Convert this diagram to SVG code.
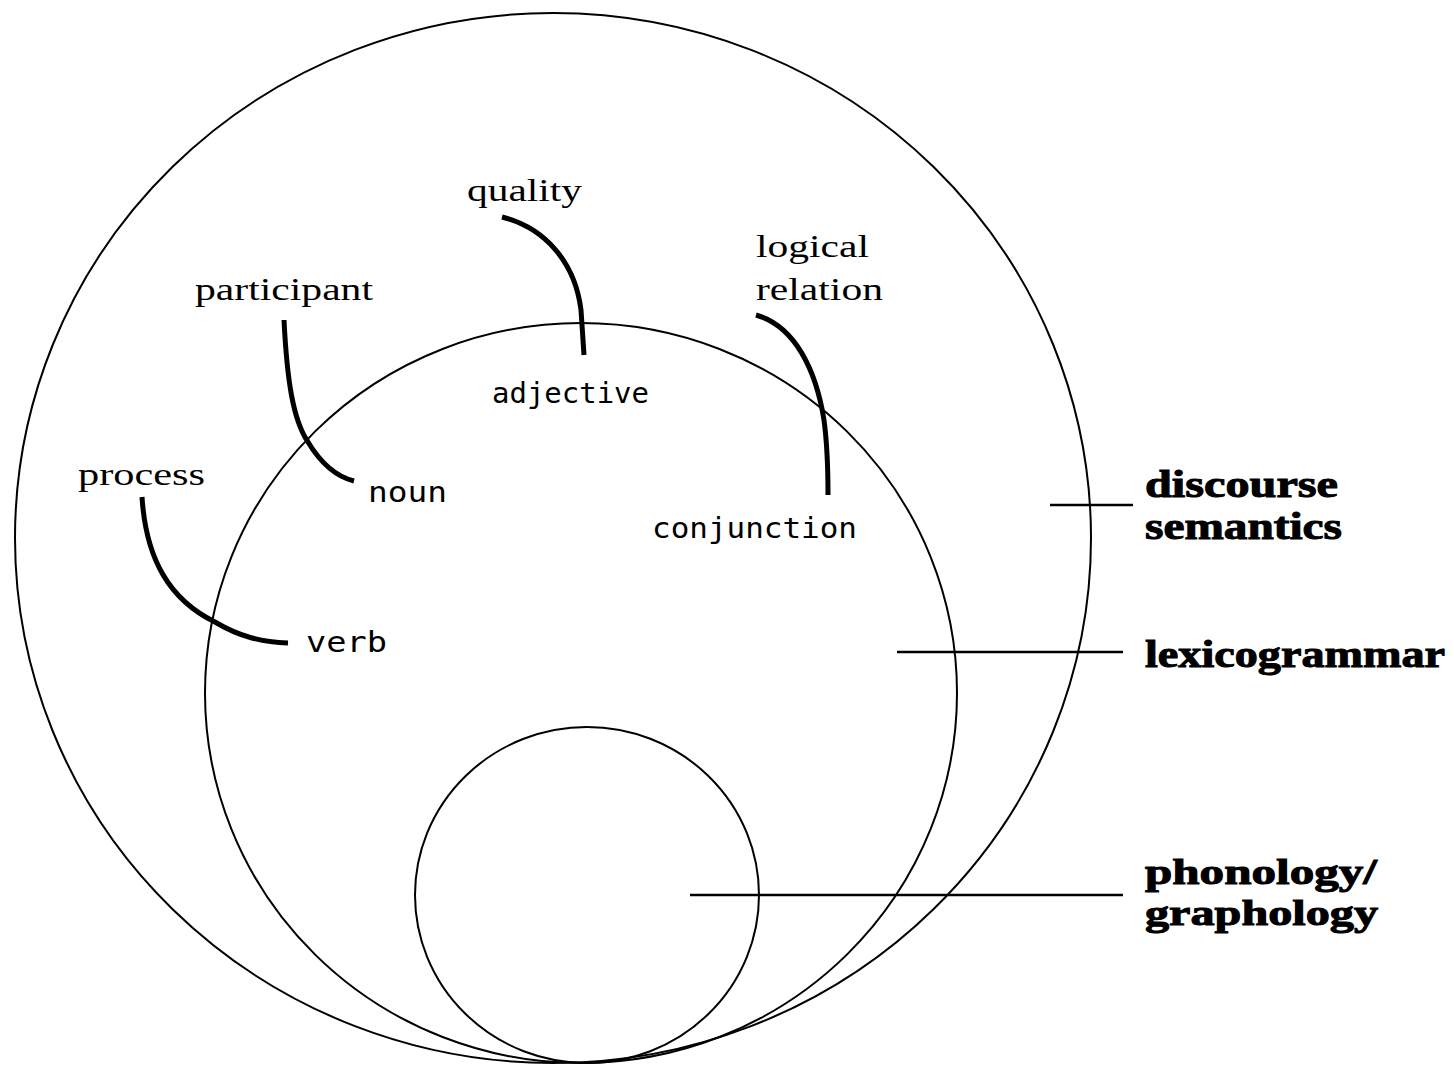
<svg xmlns="http://www.w3.org/2000/svg" width="1454" height="1065" viewBox="0 0 1454 1065">
<style>
.ring{fill:none;stroke:#000;stroke-width:2}
.thick{fill:none;stroke:#000;stroke-width:5;stroke-linecap:butt}
.tick{fill:none;stroke:#000;stroke-width:2.5}
.serif{font-family:"Liberation Serif","Times New Roman",serif;font-size:31px;fill:#000}
.mono{font-family:"DejaVu Sans Mono","Liberation Mono",monospace;font-size:29px;fill:#000}
.bold{font-family:"Liberation Serif","Times New Roman",serif;font-size:38px;font-weight:bold;fill:#000;stroke:#000;stroke-width:1}
.bold.sm{font-size:36px}
</style>
<rect width="1454" height="1065" fill="#fff"/>
<g id="strata">
<ellipse id="outer" class="ring" cx="553" cy="538" rx="538" ry="525"/>
<ellipse id="middle" class="ring" cx="581" cy="693" rx="376" ry="370"/>
<ellipse id="inner" class="ring" cx="587" cy="895" rx="172" ry="168"/>
</g>
<g id="connectors">
<path class="thick" d="M502 217 C545 228 575 262 581 310 L584 355"/>
<path class="thick" d="M284 320 C287 380 293 420 308 442 C320 462 334 476 354 481"/>
<path class="thick" d="M142 497 C146 560 170 600 215 622 C240 637 262 642 288 643"/>
<path class="thick" d="M756 315 C795 326 816 370 824 420 C828 450 828 475 828 495"/>
<line class="tick" x1="1050" y1="505" x2="1133" y2="505"/>
<line class="tick" x1="897" y1="652" x2="1123" y2="652"/>
<line class="tick" x1="690" y1="895" x2="1123" y2="895"/>
</g>
<g id="quality"><text class="serif" x="467" y="201" textLength="115" lengthAdjust="spacingAndGlyphs">quality</text></g>
<g id="participant"><text class="serif" x="195" y="300" textLength="178" lengthAdjust="spacingAndGlyphs">participant</text></g>
<g id="logical-relation"><text class="serif" x="756" y="257" textLength="113" lengthAdjust="spacingAndGlyphs">logical</text><text class="serif" x="756" y="300" textLength="127" lengthAdjust="spacingAndGlyphs">relation</text></g>
<g id="process"><text class="serif" x="78" y="485" textLength="127" lengthAdjust="spacingAndGlyphs">process</text></g>
<g id="adjective"><text class="mono" x="492" y="403" textLength="157" lengthAdjust="spacingAndGlyphs">adjective</text></g>
<g id="noun"><text class="mono" x="368" y="502" textLength="79" lengthAdjust="spacingAndGlyphs">noun</text></g>
<g id="verb"><text class="mono" x="306" y="652" textLength="81" lengthAdjust="spacingAndGlyphs">verb</text></g>
<g id="conjunction"><text class="mono" x="652" y="538" textLength="205" lengthAdjust="spacingAndGlyphs">conjunction</text></g>
<g id="discourse-semantics"><text class="bold" x="1145" y="497" textLength="193" lengthAdjust="spacingAndGlyphs">discourse</text><text class="bold" x="1145" y="539" textLength="197" lengthAdjust="spacingAndGlyphs">semantics</text></g>
<g id="lexicogrammar"><text class="bold" x="1145" y="667" textLength="300" lengthAdjust="spacingAndGlyphs">lexicogrammar</text></g>
<g id="phonology-graphology"><text class="bold sm" x="1145" y="884" textLength="232" lengthAdjust="spacingAndGlyphs">phonology/</text><text class="bold sm" x="1145" y="925" textLength="233" lengthAdjust="spacingAndGlyphs">graphology</text></g>
</svg>
